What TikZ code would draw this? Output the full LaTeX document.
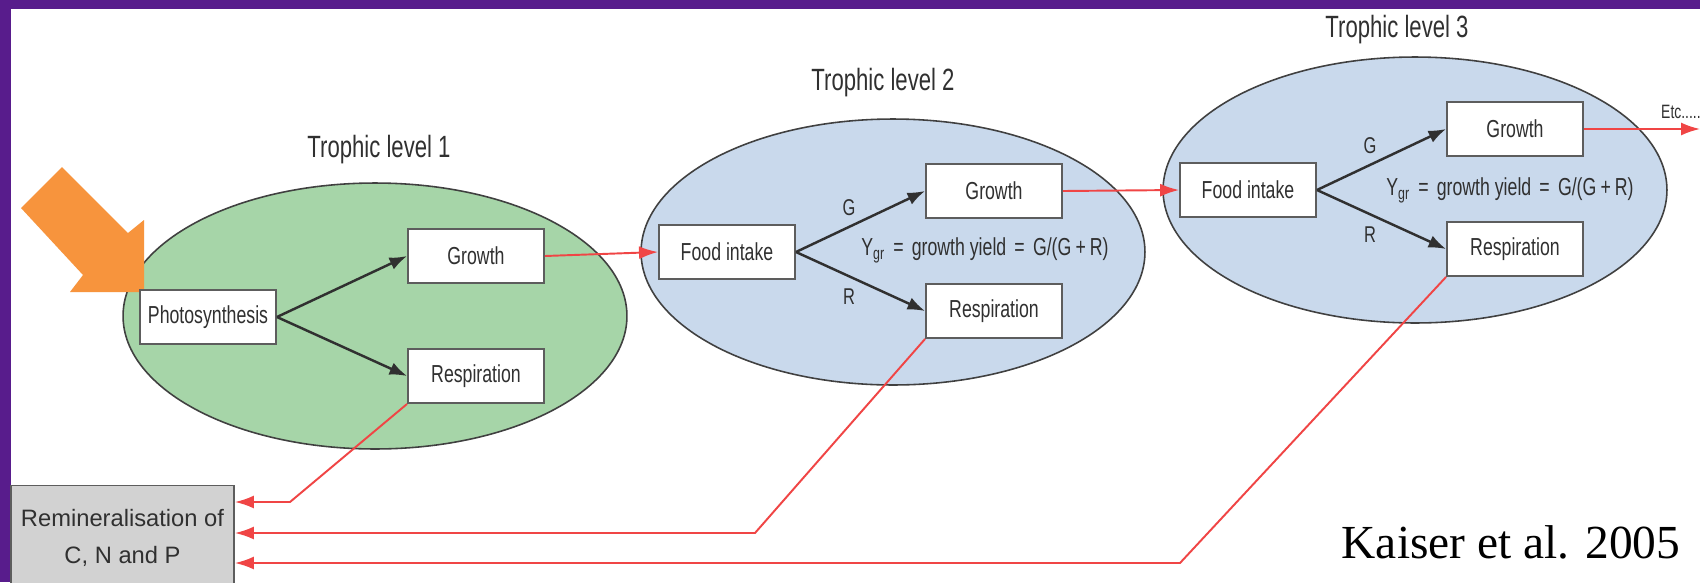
\documentclass[tikz,border=0pt]{standalone}
\usepackage{fontspec}
\setmainfont[FakeStretch=0.72]{Liberation Sans}
\newfontfamily\wideface{Liberation Sans}
\newfontfamily\citeface{Liberation Serif}
\usetikzlibrary{arrows.meta, positioning, calc, shapes.geometric}
\definecolor{FramePurple}{HTML}{581C8C}
\definecolor{LeafGreen}{HTML}{A6D5A8}
\definecolor{PaleBlue}{HTML}{C9D9EC}
\definecolor{EdgeGray}{HTML}{404040}
\definecolor{InkGray}{HTML}{303030}
\definecolor{SunOrange}{HTML}{F7943D}
\definecolor{FlowRed}{HTML}{F04545}
\definecolor{RemGray}{HTML}{D2D2D2}
\tikzset{
  levelring/.style={ellipse, draw=EdgeGray, line width=0.9pt, minimum width=10.08cm, minimum height=5.32cm, inner sep=0pt},
  stagebox/.style={draw=EdgeGray!85, line width=1.1pt, fill=white, minimum width=2.72cm, minimum height=1.08cm, inner sep=2pt, text=InkGray, font=\fontsize{14}{16}\selectfont},
  remainbox/.style={draw=EdgeGray!85, line width=1.1pt, fill=RemGray, minimum width=4.46cm, minimum height=2.1cm, align=center, text=InkGray, font=\wideface\fontsize{13.5}{21.5}\selectfont},
  leveltitle/.style={text=InkGray, font=\fontsize{17.5}{20}\selectfont},
  flowlabel/.style={text=InkGray, font=\fontsize{13}{15}\selectfont},
  yieldlabel/.style={text=InkGray, font=\fontsize{14}{16}\selectfont},
  arrow/.style={-{Latex[length=3.5mm, width=2.6mm]}, line width=1.4pt, draw=InkGray},
  redarrow/.style={-{Latex[length=3.8mm, width=2.6mm]}, line width=1.1pt, draw=FlowRed}
}

\begin{document}
\begin{tikzpicture}[x=0.02cm, y=-0.02cm]
\useasboundingbox (0,0) rectangle (1700,582);
% slide frame
\fill[FramePurple] (0,0) rectangle (1700,582);
\fill[white] (11,9) rectangle (1700,582);

% the three trophic levels
\node[levelring, fill=LeafGreen] (lv1) at (375,316) {};
\node[levelring, fill=PaleBlue] (lv2) at (893,252) {};
\node[levelring, fill=PaleBlue] (lv3) at (1415,190) {};
\node[leveltitle] (t1) at (379,150) {Trophic level 1};
\node[leveltitle] (t2) at (883,83) {Trophic level 2};
\node[leveltitle] (t3) at (1397,30) {Trophic level 3};

% light coming in
\fill[SunOrange] (62,167) -- (128,233) -- (144,220) -- (144,292) -- (70,292) -- (83,275) -- (21,208) -- cycle;

\node[stagebox] (photo) at ($(lv1)+(-167,1)$) {Photosynthesis};
\node[stagebox] (grow1) at ($(lv1)+(101,-60)$) {Growth};
\node[stagebox] (resp1) at ($(lv1)+(101,60)$) {Respiration};

\node[stagebox] (food2) at ($(lv2)+(-166,0)$) {Food intake};
\node[stagebox] (grow2) at ($(lv2)+(101,-61)$) {Growth};
\node[stagebox] (resp2) at ($(lv2)+(101,59)$) {Respiration};

\node[stagebox] (food3) at ($(lv3)+(-167,0)$) {Food intake};
\node[stagebox] (grow3) at ($(lv3)+(100,-61)$) {Growth};
\node[stagebox] (resp3) at ($(lv3)+(100,59)$) {Respiration};

\draw[arrow] (photo.east) -- (grow1.west);
\draw[arrow] (photo.east) -- (resp1.west);
\draw[arrow] (food2.east) -- (grow2.west);
\draw[arrow] (food2.east) -- (resp2.west);
\draw[arrow] (food3.east) -- (grow3.west);
\draw[arrow] (food3.east) -- (resp3.west);

\node[flowlabel] (g2) at ($(food2)+(122,-44)$) {G};
\node[flowlabel] (r2) at ($(food2)+(122,45)$) {R};
\node[flowlabel] (g3) at ($(food3)+(122,-44)$) {G};
\node[flowlabel] (r3) at ($(food3)+(122,45)$) {R};
\node[yieldlabel] (y2) at ($(food2)+(258,-2)$) {Y\textsubscript{gr}\,\,=\,\,growth yield\,\,=\,\,G/(G\,+\,R)};
\node[yieldlabel] (y3) at ($(food3)+(262,0)$) {Y\textsubscript{gr}\,\,=\,\,growth yield\,\,=\,\,G/(G\,+\,R)};

% remineralisation
\node[remainbox] (remin) at (122.5,538) {Remineralisation of\\C, N and P};
\coordinate (c1) at (290,502);
\coordinate (c2) at (755,533);
\coordinate (c3) at (1180,563);
\coordinate (etcend) at (1700,129);

\draw[redarrow] (grow1.east) -- (food2.west);
\draw[redarrow] (grow2.east) -- (food3.west);
\draw[redarrow] (grow3.east) -- (etcend);
\node[flowlabel, anchor=west, font=\fontsize{11}{13}\selectfont] (etc) at (1655,112) {Etc.....};
\draw[redarrow] (resp1.south west) -- (c1) -- (c1 -| remin.east);
\draw[redarrow] (resp2.south west) -- (c2) -- (c2 -| remin.east);
\draw[redarrow] (resp3.south west) -- (c3) -- (c3 -| remin.east);

\node[anchor=base, font=\citeface\fontsize{27}{30}\selectfont] (cite) at (1511,558) {Kaiser et al. 2005};
\end{tikzpicture}
\end{document}
